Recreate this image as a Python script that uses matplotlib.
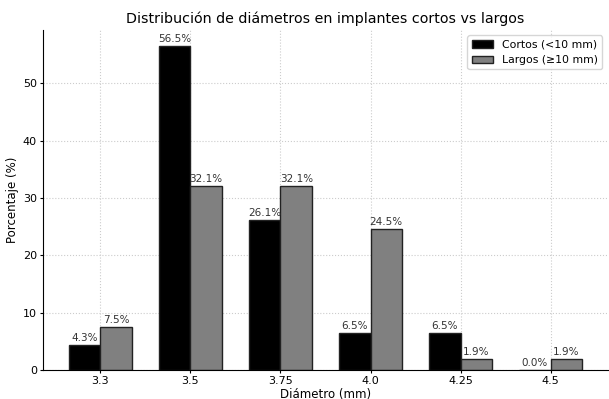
import numpy as np
import matplotlib.pyplot as plt

diametros = ['3.3', '3.5', '3.75', '4.0', '4.25', '4.5']
cortos = [4.3, 56.5, 26.1, 6.5, 6.5, 0.0]
largos = [7.5, 32.1, 32.1, 24.5, 1.9, 1.9]

x = np.arange(len(diametros))
width = 0.35

fig, ax = plt.subplots(figsize=(6.09, 3.99), dpi=100)
b1 = ax.bar(x - width / 2, cortos, width, color='black', edgecolor='#222222', linewidth=1,
            label='Cortos (<10 mm)')
b2 = ax.bar(x + width / 2, largos, width, color='gray', edgecolor='#222222', linewidth=1,
            label='Largos (≥10 mm)')

for bars in (b1, b2):
    for bar in bars:
        h = bar.get_height()
        ax.annotate('{:.1f}%'.format(h), xy=(bar.get_x() + bar.get_width() / 2, h),
                    xytext=(0, 1.5), textcoords='offset points',
                    ha='center', va='bottom', fontsize=7.5, color='#333333')

ax.set_xticks(x)
ax.set_xticklabels(diametros)
ax.set_xlabel('Diámetro (mm)', fontsize=8.5, labelpad=1)
ax.set_ylabel('Porcentaje (%)', fontsize=8.5, labelpad=3)
ax.set_title('Distribución de diámetros en implantes cortos vs largos', fontsize=10.3, pad=5)
ax.tick_params(labelsize=8, length=2.5, pad=2)
ax.grid(True, linestyle=':', color='#cccccc', linewidth=0.8)
ax.set_axisbelow(True)
ax.spines['top'].set_visible(False)
ax.spines['right'].set_visible(False)
ax.legend(fontsize=7.8, loc='upper right')

fig.subplots_adjust(left=0.071, right=0.998, top=0.925, bottom=0.073)
fig.savefig('out.png')
